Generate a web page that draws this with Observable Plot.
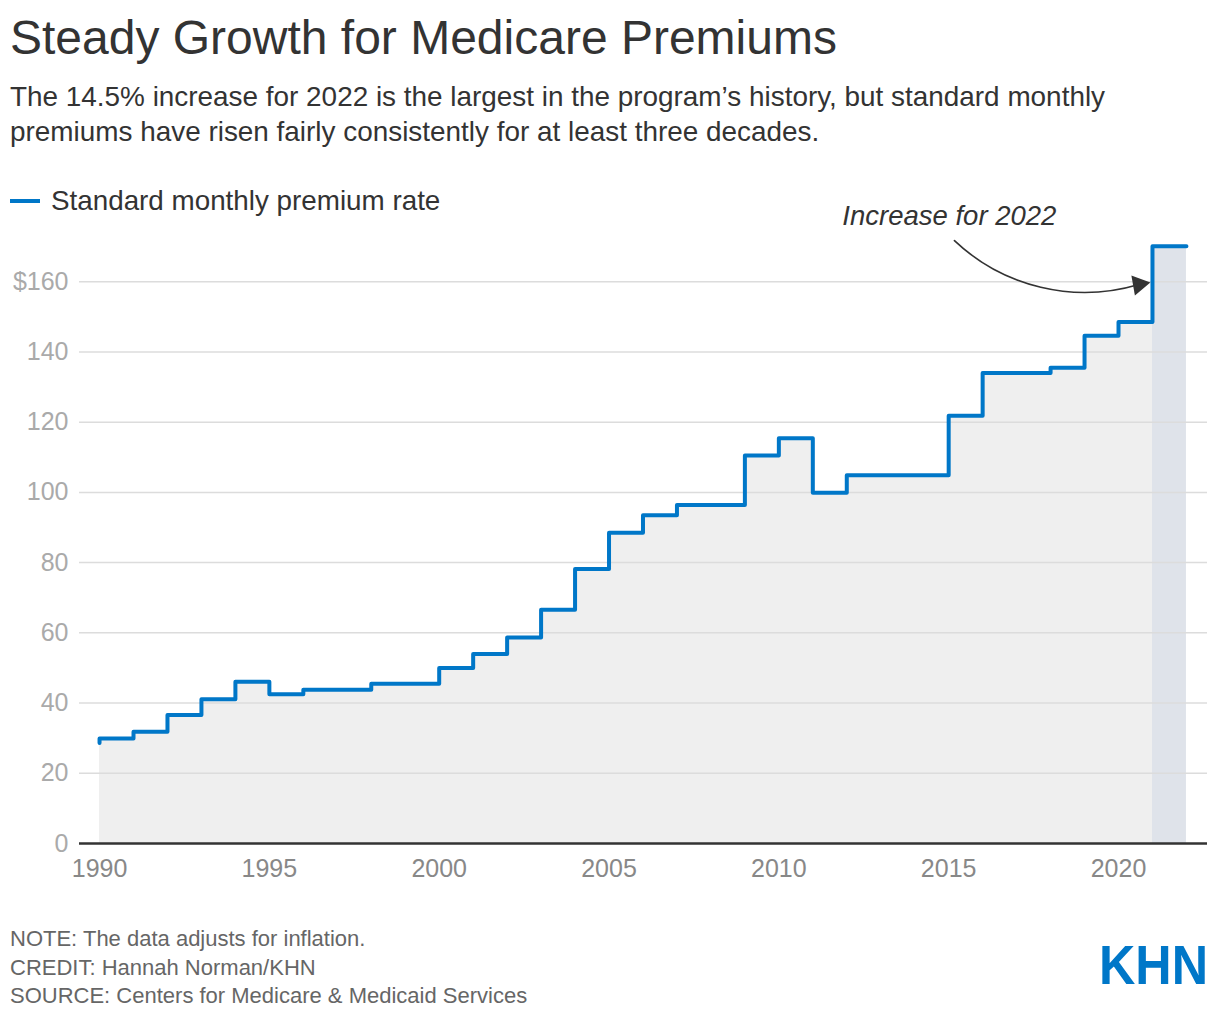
<!DOCTYPE html>
<html><head><meta charset="utf-8">
<script src="https://cdn.jsdelivr.net/npm/d3@7"></script>
<script src="https://cdn.jsdelivr.net/npm/@observablehq/plot@0.6"></script>
<style>
body{margin:0;background:#fff;font-family:"Liberation Sans",Arial,sans-serif;width:1220px;height:1020px;position:relative;overflow:hidden}
#title{position:absolute;left:10px;top:11px;font-size:48px;color:#333;line-height:54px;white-space:nowrap}
#sub{position:absolute;left:10px;top:79px;font-size:27.9px;color:#333;line-height:35px;width:1160px}
#legend{position:absolute;left:10px;top:185px;font-size:27.8px;color:#333;line-height:32px;display:flex;align-items:center}
#legend .sw{display:inline-block;width:30px;height:4px;background:#0077c8;margin-right:11px}
#chart{position:absolute;left:0;top:190px}
#foot{position:absolute;left:10px;top:925px;font-size:22px;color:#666;line-height:28.5px}
#logo{position:absolute;left:1097px;top:938px;overflow:visible}
</style></head>
<body>
<div id="title">Steady Growth for Medicare Premiums</div>
<div id="sub">The 14.5% increase for 2022 is the largest in the program’s history, but standard monthly premiums have risen fairly consistently for at least three decades.</div>
<div id="chart"></div>
<div id="legend"><span class="sw"></span>Standard monthly premium rate</div>
<div id="foot">NOTE: The data adjusts for inflation.<br>CREDIT: Hannah Norman/KHN<br>SOURCE: Centers for Medicare &amp; Medicaid Services</div>
<svg id="logo" width="118" height="52"><text x="2" y="46" font-family="'Liberation Sans', Arial, sans-serif" font-weight="700" font-size="56" fill="#0077c8" textLength="109" lengthAdjust="spacingAndGlyphs">KHN</text></svg>
<script>
const years = [1990,1991,1992,1993,1994,1995,1996,1997,1998,1999,2000,2001,2002,2003,2004,2005,2006,2007,2008,2009,2010,2011,2012,2013,2014,2015,2016,2017,2018,2019,2020,2021,2022];
const premiums = [28.6,29.9,31.8,36.6,41.1,46.1,42.5,43.8,43.8,45.5,45.5,50.0,54.0,58.7,66.6,78.2,88.5,93.5,96.4,96.4,110.5,115.4,99.9,104.9,104.9,104.9,121.8,134.0,134.0,135.5,144.6,148.5,170.1];
const xTicks = [1990,1995,2000,2005,2010,2015,2020];
const yTicks = [0,20,40,60,80,100,120,140,160];
const highlightStart = [2021];
const highlightEnd = [2022];
const highlightValue = [170.1];
const annotationLabel = ["Increase for 2022"];
const annotationTextAt = [2011.87, 178.6];
const annotationArrowFrom = [2015.17, 171.7];
const annotationArrowTo = [2020.6, 159.2];

const data = years.map((y,i)=>({year:y, value:premiums[i]}));
const hl = highlightStart.map((s,i)=>({x1:s, x2:highlightEnd[i], y:highlightValue[i]}));

const chart = Plot.plot({
  width: 1220,
  height: 710,
  marginLeft: 79,
  marginRight: 13,
  marginTop: 21,
  marginBottom: 57,
  style: {fontFamily: "'Liberation Sans', Arial, sans-serif", fontSize: "25px", background: "transparent", overflow: "visible"},
  x: {domain: [1989.41, 2022.62]},
  y: {domain: [0, 180]},
  marks: [
    Plot.areaY(data, {x: "year", y: "value", curve: "step-before", fill: "#efefef"}),
    Plot.rectY(hl, {x1: "x1", x2: "x2", y: "y", fill: "#dfe3ea"}),
    Plot.gridY(yTicks.filter(d=>d>0), {stroke: "#dcdcdc", strokeOpacity: 1, strokeWidth: 1.5}),
    Plot.axisY(yTicks, {tickSize: 0, tickPadding: 11, color: "#aaa", tickFormat: d => d === 160 ? "$160" : String(d), label: null}),
    Plot.axisX(xTicks, {tickSize: 0, tickPadding: 16, color: "#888", tickFormat: d => String(d), label: null}),
    Plot.ruleY([0], {stroke: "#333", strokeWidth: 2.5}),
    Plot.line(data, {x: "year", y: "value", curve: "step-before", stroke: "#0077c8", strokeWidth: 4}),
    Plot.arrow([0], {x1: () => annotationArrowFrom[0], y1: () => annotationArrowFrom[1], x2: () => annotationArrowTo[0], y2: () => annotationArrowTo[1], bend: -30, stroke: "#333", strokeWidth: 1.6, headLength: 0}),
    Plot.dot([0], {x: () => annotationArrowTo[0], y: () => annotationArrowTo[1], symbol: "triangle", r: 7.5, fill: "#333", stroke: null, rotate: 80}),
    Plot.text(annotationLabel, {x: () => annotationTextAt[0], y: () => annotationTextAt[1], text: d => d, textAnchor: "start", fontStyle: "italic", fontSize: 27.5, fill: "#333"})
  ]
});
document.getElementById("chart").appendChild(chart);
</script>
</body></html>
